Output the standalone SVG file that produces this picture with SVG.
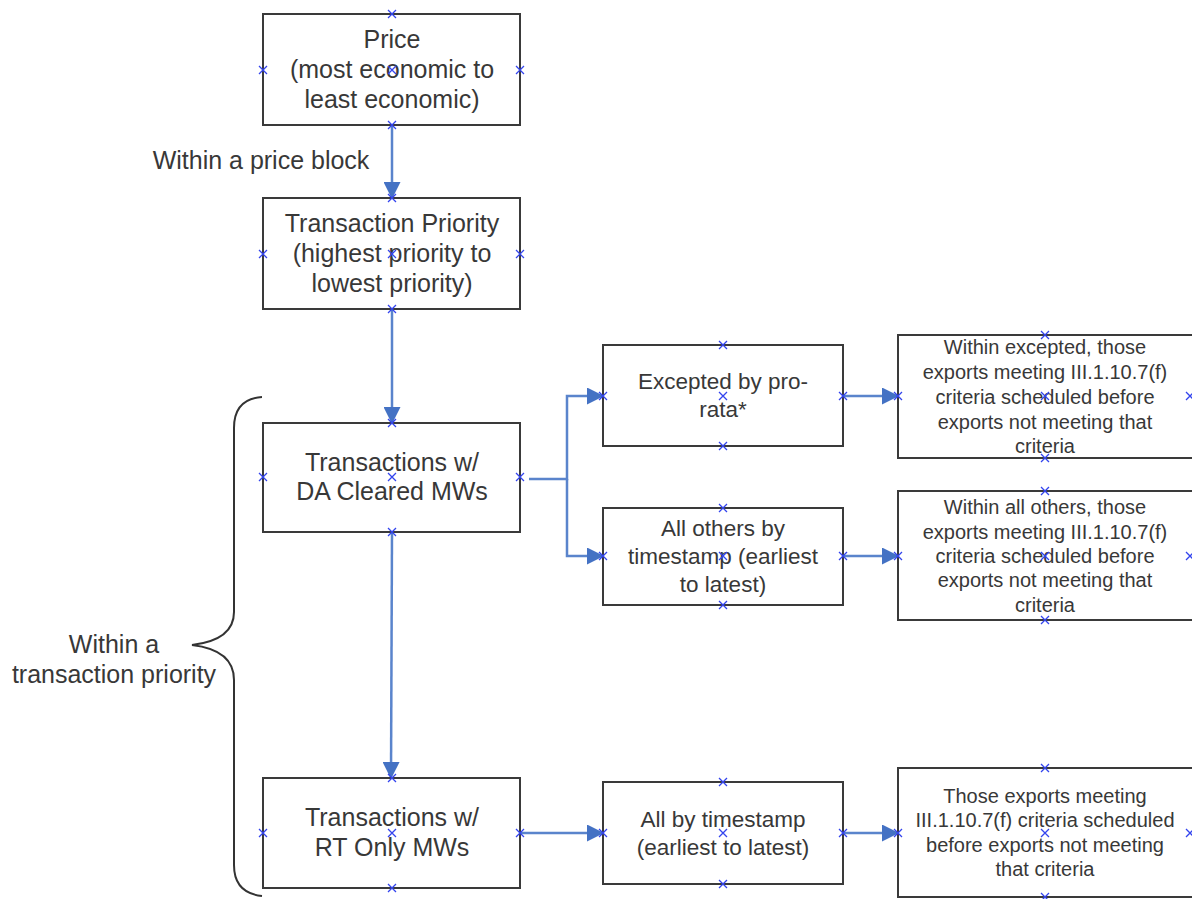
<svg xmlns="http://www.w3.org/2000/svg" width="1192" height="899" viewBox="0 0 1192 899">
<defs>
<style>
.box{fill:#fff;stroke:#3a3a3a;stroke-width:2}
.t{font-family:"Liberation Sans",Arial,sans-serif;fill:#383838;text-anchor:middle}
.l{font-size:25px}
.m{font-size:22.5px}
.s{font-size:20px}
.c{fill:none;stroke:#5a84cc;stroke-width:2.5}
.x{fill:none;stroke:#3344ee;stroke-width:1.3}
</style>
<marker id="ah" markerUnits="userSpaceOnUse" markerWidth="17" markerHeight="17" refX="16" refY="8.5" orient="auto">
<path d="M0,0 L17,8.5 L0,17 Z" fill="#4472c4"/>
</marker>
<path id="xm" d="M-4,-4 L4,4 M-4,4 L4,-4"/>
</defs>
<rect width="1192" height="899" fill="#fff"/>

<g id="connectors">
<path class="c" d="M392,125 L392,198" marker-end="url(#ah)"/>
<path class="c" d="M392,309 L392,423" marker-end="url(#ah)"/>
<path class="c" d="M392,532 L391,778" marker-end="url(#ah)"/>
<path class="c" d="M529,479 L567,479 L567,396 L603,396" marker-end="url(#ah)"/>
<path class="c" d="M567,479 L567,556 L603,556" marker-end="url(#ah)"/>
<path class="c" d="M843,396 L898,396" marker-end="url(#ah)"/>
<path class="c" d="M843,556 L898,556" marker-end="url(#ah)"/>
<path class="c" d="M520,833 L603,833" marker-end="url(#ah)"/>
<path class="c" d="M843,833 L898,833" marker-end="url(#ah)"/>
<text class="t l" x="261" y="169">Within a price block</text>
</g>

<g id="brace">
<path d="M262,397 Q234,399 234,428 L234,612 Q234,640 192,645 Q234,650 234,680 L234,865 Q234,893 262,896" fill="none" stroke="#333" stroke-width="2"/>
<text class="t l"><tspan x="114" y="653">Within a</tspan><tspan x="114" y="683">transaction priority</tspan></text>
</g>

<g id="n1">
<rect class="box" x="263" y="14" width="257" height="111"/>
<text class="t l"><tspan x="392" y="48">Price</tspan><tspan x="392" y="78">(most economic to</tspan><tspan x="392" y="108">least economic)</tspan></text>
</g>
<g id="n2">
<rect class="box" x="263" y="198" width="257" height="111"/>
<text class="t l"><tspan x="392" y="232">Transaction Priority</tspan><tspan x="392" y="262">(highest priority to</tspan><tspan x="392" y="292">lowest priority)</tspan></text>
</g>
<g id="n3">
<rect class="box" x="263" y="423" width="257" height="109"/>
<text class="t l"><tspan x="392" y="471">Transactions w/</tspan><tspan x="392" y="500">DA Cleared MWs</tspan></text>
</g>
<g id="n4">
<rect class="box" x="263" y="778" width="257" height="110"/>
<text class="t l"><tspan x="392" y="826">Transactions w/</tspan><tspan x="392" y="856">RT Only MWs</tspan></text>
</g>
<g id="n5">
<rect class="box" x="603" y="345" width="240" height="101"/>
<text class="t m"><tspan x="723" y="389">Excepted by pro-</tspan><tspan x="723" y="417">rata*</tspan></text>
</g>
<g id="n6">
<rect class="box" x="603" y="508" width="240" height="97"/>
<text class="t m"><tspan x="723" y="536">All others by</tspan><tspan x="723" y="564">timestamp (earliest</tspan><tspan x="723" y="592">to latest)</tspan></text>
</g>
<g id="n7">
<rect class="box" x="603" y="782" width="240" height="102"/>
<text class="t m"><tspan x="723" y="827">All by timestamp</tspan><tspan x="723" y="855">(earliest to latest)</tspan></text>
</g>
<g id="n8">
<rect class="box" x="898" y="335" width="296" height="123"/>
<text class="t s"><tspan x="1045" y="354">Within excepted, those</tspan><tspan x="1045" y="379">exports meeting III.1.10.7(f)</tspan><tspan x="1045" y="404">criteria scheduled before</tspan><tspan x="1045" y="429">exports not meeting that</tspan><tspan x="1045" y="453">criteria</tspan></text>
</g>
<g id="n9">
<rect class="box" x="898" y="491" width="296" height="129"/>
<text class="t s"><tspan x="1045" y="514">Within all others, those</tspan><tspan x="1045" y="539">exports meeting III.1.10.7(f)</tspan><tspan x="1045" y="563">criteria scheduled before</tspan><tspan x="1045" y="587">exports not meeting that</tspan><tspan x="1045" y="612">criteria</tspan></text>
</g>
<g id="n10">
<rect class="box" x="898" y="768" width="296" height="129"/>
<text class="t s"><tspan x="1045" y="803">Those exports meeting</tspan><tspan x="1045" y="827">III.1.10.7(f) criteria scheduled</tspan><tspan x="1045" y="852">before exports not meeting</tspan><tspan x="1045" y="876">that criteria</tspan></text>
</g>

<g id="connection-points" class="x">
<use href="#xm" x="392" y="14"/><use href="#xm" x="263" y="70"/><use href="#xm" x="520" y="70"/><use href="#xm" x="392" y="70"/><use href="#xm" x="392" y="125"/>
<use href="#xm" x="392" y="198"/><use href="#xm" x="263" y="254"/><use href="#xm" x="520" y="254"/><use href="#xm" x="392" y="254"/><use href="#xm" x="392" y="309"/>
<use href="#xm" x="392" y="423"/><use href="#xm" x="263" y="477"/><use href="#xm" x="520" y="477"/><use href="#xm" x="392" y="477"/><use href="#xm" x="392" y="532"/>
<use href="#xm" x="392" y="778"/><use href="#xm" x="263" y="833"/><use href="#xm" x="520" y="833"/><use href="#xm" x="392" y="833"/><use href="#xm" x="392" y="888"/>
<use href="#xm" x="723" y="345"/><use href="#xm" x="603" y="396"/><use href="#xm" x="843" y="396"/><use href="#xm" x="723" y="396"/><use href="#xm" x="723" y="446"/>
<use href="#xm" x="723" y="508"/><use href="#xm" x="603" y="556"/><use href="#xm" x="843" y="556"/><use href="#xm" x="723" y="556"/><use href="#xm" x="723" y="605"/>
<use href="#xm" x="723" y="782"/><use href="#xm" x="603" y="833"/><use href="#xm" x="843" y="833"/><use href="#xm" x="723" y="833"/><use href="#xm" x="723" y="884"/>
<use href="#xm" x="1045" y="335"/><use href="#xm" x="898" y="396"/><use href="#xm" x="1190" y="396"/><use href="#xm" x="1045" y="396"/><use href="#xm" x="1045" y="458"/>
<use href="#xm" x="1045" y="491"/><use href="#xm" x="898" y="556"/><use href="#xm" x="1190" y="556"/><use href="#xm" x="1045" y="556"/><use href="#xm" x="1045" y="620"/>
<use href="#xm" x="1045" y="768"/><use href="#xm" x="898" y="833"/><use href="#xm" x="1190" y="833"/><use href="#xm" x="1045" y="833"/><use href="#xm" x="1045" y="897"/>
</g>
</svg>
